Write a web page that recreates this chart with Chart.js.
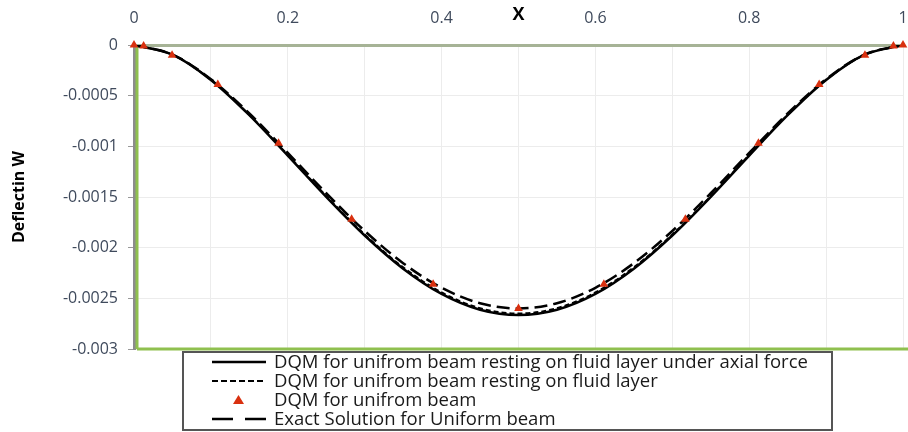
<!DOCTYPE html>
<html>
<head>
<meta charset="utf-8">
<script src="https://cdn.jsdelivr.net/npm/chart.js@4.4.1/dist/chart.umd.min.js"></script>
<style>
  html, body { margin: 0; padding: 0; background: #fff; }
  #wrap { width: 908px; height: 432px; position: relative; }
</style>
</head>
<body>
<div id="wrap"><canvas id="beamChart"></canvas></div>
<script>
// ---- data ----
const xLine = [0, 0.05, 0.1, 0.15, 0.2, 0.25, 0.3, 0.35, 0.4, 0.45, 0.5,
               0.55, 0.6, 0.65, 0.7, 0.75, 0.8, 0.85, 0.9, 0.95, 1];
const wAxialForce = [0, -0.000096, -0.000345, -0.000693, -0.001092, -0.001499, -0.00188,
                     -0.002207, -0.002456, -0.002612, -0.002665, -0.002612, -0.002456,
                     -0.002207, -0.00188, -0.001499, -0.001092, -0.000693, -0.000345, -0.000096, 0];
const wFluidLayer = [0, -0.000096, -0.000343, -0.000689, -0.001085, -0.001491, -0.00187,
                     -0.002194, -0.002442, -0.002597, -0.00265, -0.002597, -0.002442,
                     -0.002194, -0.00187, -0.001491, -0.001085, -0.000689, -0.000343, -0.000096, 0];
const wExact = [0, -0.000094, -0.000337, -0.000676, -0.001065, -0.001463, -0.001835,
                -0.002153, -0.002396, -0.002548, -0.0026, -0.002548, -0.002396,
                -0.002153, -0.001835, -0.001463, -0.001065, -0.000676, -0.000337, -0.000094, 0];

const xNodes = [0, 0.0125, 0.0495, 0.109, 0.188, 0.283, 0.389, 0.5,
                0.611, 0.717, 0.812, 0.891, 0.9505, 0.9875, 1];
const wUniform = [0, -0.00001, -0.0001, -0.00039, -0.00097, -0.00172, -0.00236, -0.0026,
                  -0.00236, -0.00172, -0.00097, -0.00039, -0.0001, -0.00001, 0];

const seriesLabels = [
  'DQM for unifrom beam resting on fluid layer under axial force',
  'DQM for unifrom beam resting on fluid layer',
  'DQM for unifrom beam',
  'Exact Solution for Uniform beam'
];

const FONT = '"Open Sans", "Liberation Sans", sans-serif';
const pts = (xs, ys) => xs.map((x, i) => ({ x, y: ys[i] }));

// ---- frame + legend box drawn over the chart ----
const frameAndLegend = {
  id: 'frameAndLegend',
  beforeDatasetsDraw(chart) {
    const { ctx, chartArea: a } = chart;
    ctx.save();
    // green plot border (bottom + inner left)
    ctx.strokeStyle = '#8fc04f';
    ctx.lineWidth = 3;
    ctx.beginPath();
    ctx.moveTo(a.left + 3, a.bottom);
    ctx.lineTo(908, a.bottom);
    ctx.moveTo(a.left + 3, a.top + 2);
    ctx.lineTo(a.left + 3, a.bottom);
    ctx.stroke();
    ctx.restore();
  },
  afterDraw(chart) {
    const { ctx } = chart;
    ctx.save();
    const bx = 183, by = 352, bw = 649, bh = 78;
    ctx.fillStyle = '#fff';
    ctx.fillRect(bx, by, bw, bh);
    ctx.strokeStyle = '#555';
    ctx.lineWidth = 2;
    ctx.strokeRect(bx, by, bw, bh);

    ctx.font = '18.5px ' + FONT;
    ctx.textBaseline = 'middle';
    ctx.textAlign = 'left';
    chart.data.datasets.forEach((ds, i) => {
      const y = 362 + i * 19;
      if (ds.showLine === false) {
        ctx.fillStyle = ds.pointBackgroundColor;
        ctx.beginPath();
        ctx.moveTo(238.5, y - 5);
        ctx.lineTo(244, y + 4);
        ctx.lineTo(233, y + 4);
        ctx.closePath();
        ctx.fill();
      } else {
        ctx.strokeStyle = ds.borderColor;
        ctx.lineWidth = ds.borderWidth;
        ctx.setLineDash(ds.legendDash || []);
        ctx.beginPath();
        ctx.moveTo(212, y);
        ctx.lineTo(266, y);
        ctx.stroke();
        ctx.setLineDash([]);
      }
      ctx.fillStyle = '#1a1a1a';
      ctx.fillText(ds.label, 274, y + 1);
    });
    ctx.restore();
  }
};

new Chart(document.getElementById('beamChart'), {
  type: 'scatter',
  data: {
    datasets: [
      {
        label: seriesLabels[0],
        data: pts(xLine, wAxialForce),
        showLine: true,
        borderColor: '#000',
        borderWidth: 2.5,
        pointRadius: 0,
        cubicInterpolationMode: 'monotone',
        order: 3
      },
      {
        label: seriesLabels[1],
        data: pts(xLine, wFluidLayer),
        showLine: true,
        borderColor: '#000',
        borderWidth: 2,
        borderDash: [5, 3],
        legendDash: [6, 3],
        pointRadius: 0,
        cubicInterpolationMode: 'monotone',
        order: 2
      },
      {
        label: seriesLabels[2],
        data: pts(xNodes, wUniform),
        showLine: false,
        pointStyle: 'triangle',
        pointRadius: 5,
        pointBackgroundColor: '#d9300f',
        pointBorderColor: '#d9300f',
        pointBorderWidth: 0,
        clip: false,
        order: 0
      },
      {
        label: seriesLabels[3],
        data: pts(xLine, wExact),
        showLine: true,
        borderColor: '#000',
        borderWidth: 2.5,
        borderDash: [13, 6],
        legendDash: [21, 12],
        pointRadius: 0,
        cubicInterpolationMode: 'monotone',
        order: 1
      }
    ]
  },
  options: {
    responsive: true,
    maintainAspectRatio: false,
    animation: false,
    layout: { padding: { left: 0, right: 5, top: 0, bottom: 83 } },
    scales: {
      x: {
        type: 'linear',
        position: 'top',
        min: 0,
        max: 1,
        afterFit: s => {
          s.height = 45;
          s.paddingLeft = 0;
          s.paddingRight = 0;
        },
        ticks: {
          stepSize: 0.1,
          autoSkip: false,
          maxRotation: 0,
          color: '#3f4a5c',
          font: { size: 16, family: FONT },
          padding: 17,
          callback: v => {
            const r = Math.round(v * 10);
            return r % 2 === 0 ? String(r / 10) : '';
          }
        },
        grid: {
          color: '#ececec',
          lineWidth: 1,
          drawTicks: false
        },
        border: { color: '#a6b396', width: 3 },
        title: {
          display: true,
          text: 'X',
          color: '#000',
          font: { size: 18, weight: 'bold', family: FONT },
          padding: { top: 4, bottom: -30 }
        }
      },
      y: {
        min: -0.003,
        max: 0,
        afterFit: s => { s.width = 134; },
        ticks: {
          stepSize: 0.0005,
          color: '#3f4a5c',
          font: { size: 16, family: FONT },
          padding: 10,
          callback: v => {
            const r = Math.round(v * 10000) / 10000;
            return r === 0 ? '0' : String(r);
          }
        },
        grid: {
          color: '#ececec',
          lineWidth: 1,
          tickLength: 6,
          tickColor: '#999'
        },
        border: { color: '#8c8c8c', width: 3 },
        title: {
          display: true,
          text: 'Deflectin W',
          color: '#000',
          font: { size: 16, weight: 'bold', family: FONT },
          padding: { top: 10, bottom: 0 }
        }
      }
    },
    plugins: {
      legend: { display: false },
      tooltip: { enabled: false }
    }
  },
  plugins: [frameAndLegend]
});
</script>
</body>
</html>
